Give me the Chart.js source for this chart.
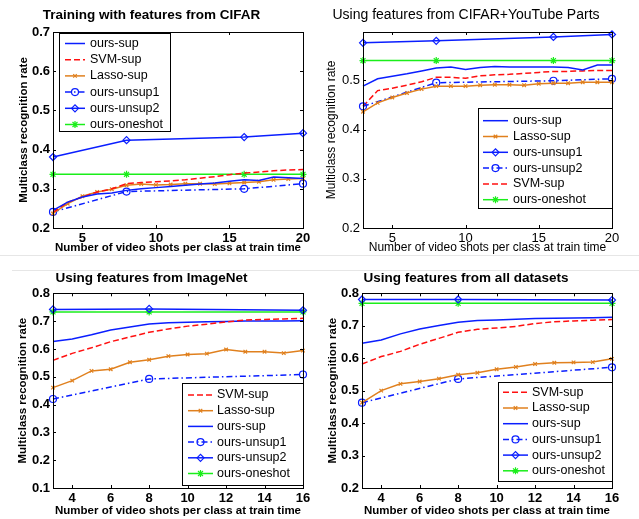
<!DOCTYPE html>
<html>
<head>
<meta charset="utf-8">
<script src="https://cdn.jsdelivr.net/npm/chart.js@4.4.1/dist/chart.umd.min.js"></script>
<style>
body { margin: 0; background: #fff; }
#page { position: relative; width: 639px; height: 519px; overflow: hidden; }
canvas { position: absolute; }
.sep { position: absolute; height: 1px; background: #e6e6e6; }
</style>
</head>
<body>
<div id="page">
    <div class="sep" style="left:0;top:255px;width:639px"></div>
    <div class="sep" style="left:12px;top:270px;width:627px"></div>
    <canvas id="cifarChart" width="320" height="260" style="left:0;top:0"></canvas>
    <canvas id="youtubeChart" width="319" height="260" style="left:320px;top:0"></canvas>
    <canvas id="imagenetChart" width="320" height="259" style="left:0;top:260px"></canvas>
    <canvas id="allChart" width="319" height="259" style="left:320px;top:260px"></canvas>
</div>
<script>
// x values (video shots per class)
const shots20 = [3, 4, 5, 6, 7, 8, 9, 10, 11, 12, 13, 14, 15, 16, 17, 18, 19, 20];
const markedShots20 = [3, 8, 16, 20];
const shots16 = [3, 4, 5, 6, 7, 8, 9, 10, 11, 12, 13, 14, 15, 16];
const markedShots16 = [3, 8, 16];

// Training with features from CIFAR
const cifarOursSup = [0.245, 0.266, 0.279, 0.287, 0.289, 0.296, 0.300, 0.303, 0.306, 0.309, 0.312, 0.315, 0.319, 0.323, 0.321, 0.330, 0.328, 0.326];
const cifarSvmSup = [0.240, 0.266, 0.279, 0.292, 0.300, 0.313, 0.316, 0.318, 0.320, 0.323, 0.327, 0.331, 0.336, 0.340, 0.343, 0.346, 0.348, 0.349];
const cifarLassoSup = [0.237, 0.262, 0.281, 0.292, 0.299, 0.309, 0.312, 0.310, 0.311, 0.313, 0.313, 0.312, 0.314, 0.316, 0.318, 0.323, 0.325, 0.326];
const cifarUnsup1 = [0.241, 0.293, 0.300, 0.313];
const cifarUnsup2 = [0.381, 0.424, 0.432, 0.442];
const cifarOneshot = [0.337, 0.337, 0.337, 0.337];

// Using features from CIFAR+YouTube Parts
const ytOursSup = [0.488, 0.503, 0.508, 0.513, 0.519, 0.525, 0.527, 0.522, 0.526, 0.528, 0.527, 0.527, 0.527, 0.527, 0.526, 0.521, 0.531, 0.531];
const ytLassoSup = [0.436, 0.454, 0.465, 0.474, 0.482, 0.488, 0.488, 0.488, 0.490, 0.491, 0.491, 0.490, 0.493, 0.494, 0.494, 0.496, 0.496, 0.496];
const ytUnsup1 = [0.576, 0.580, 0.588, 0.593];
const ytUnsup2 = [0.447, 0.495, 0.499, 0.503];
const ytSvmSup = [0.447, 0.479, 0.484, 0.490, 0.497, 0.506, 0.506, 0.504, 0.509, 0.511, 0.512, 0.514, 0.516, 0.518, 0.518, 0.519, 0.520, 0.520];
const ytOneshot = [0.540, 0.540, 0.540, 0.540];

// Using features from ImageNet
const inSvmSup = [0.559, 0.584, 0.604, 0.626, 0.643, 0.660, 0.672, 0.682, 0.689, 0.697, 0.704, 0.706, 0.708, 0.710];
const inLassoSup = [0.461, 0.486, 0.521, 0.527, 0.552, 0.561, 0.574, 0.580, 0.583, 0.598, 0.590, 0.590, 0.585, 0.594];
const inOursSup = [0.627, 0.636, 0.651, 0.668, 0.679, 0.690, 0.694, 0.696, 0.698, 0.699, 0.700, 0.700, 0.700, 0.701];
const inUnsup1 = [0.420, 0.492, 0.508];
const inUnsup2 = [0.742, 0.744, 0.739];
const inOneshot = [0.733, 0.733, 0.733];

// Using features from all datasets
const allSvmSup = [0.582, 0.605, 0.621, 0.643, 0.661, 0.680, 0.689, 0.693, 0.698, 0.707, 0.712, 0.715, 0.717, 0.719];
const allLassoSup = [0.463, 0.500, 0.521, 0.528, 0.537, 0.549, 0.555, 0.566, 0.573, 0.582, 0.586, 0.587, 0.588, 0.598];
const allOursSup = [0.646, 0.656, 0.675, 0.690, 0.701, 0.711, 0.716, 0.718, 0.720, 0.722, 0.723, 0.724, 0.725, 0.726];
const allUnsup1 = [0.463, 0.536, 0.572];
const allUnsup2 = [0.781, 0.781, 0.779];
const allOneshot = [0.769, 0.769, 0.769];

const FONT = "'Liberation Sans', Arial, Helvetica, sans-serif";
const BLUE = "#0a1eff";
const RED = "#ff1010";
const ORANGE = "#e0801e";
const GREEN = "#1aee1a";

const looks = {
    solid: { borderColor: BLUE, pointRadius: 0 },
    dashed: { borderColor: RED, borderDash: [6, 3], pointRadius: 0 },
    cross: { borderColor: ORANGE, pointStyle: "crossRot", pointRadius: 2.5 },
    dashDotCircle: { borderColor: BLUE, borderDash: [6, 3, 1.5, 3], pointStyle: "circle", pointRadius: 3.5 },
    diamond: { borderColor: BLUE, pointStyle: "rectRot", pointRadius: 3.5 },
    star: { borderColor: GREEN, pointStyle: "star", pointRadius: 3.5 },
};

function series(label, xs, ys, look) {
    return Object.assign(
        {
            label: label,
            data: xs.map((x, i) => ({ x: x, y: ys[i] })),
            borderWidth: 1.5,
            backgroundColor: "rgba(0,0,0,0)",
            pointBackgroundColor: "rgba(0,0,0,0)",
            pointBorderWidth: 1.2,
            tension: 0,
            clip: false,
        },
        looks[look]
    );
}

// box around the plot area with inward tick marks (matlab style)
const frame = {
    id: "frame",
    afterDraw(chart) {
        const { ctx, chartArea: a } = chart;
        const xs = chart.scales.x, ys = chart.scales.y;
        ctx.save();
        ctx.strokeStyle = "#000";
        ctx.lineWidth = 1;
        ctx.strokeRect(Math.round(a.left) + 0.5, Math.round(a.top) + 0.5,
            Math.round(a.right - a.left), Math.round(a.bottom - a.top));
        ctx.beginPath();
        xs.ticks.forEach((t) => {
            const px = Math.round(xs.getPixelForValue(t.value)) + 0.5;
            ctx.moveTo(px, a.bottom); ctx.lineTo(px, a.bottom - 3);
            ctx.moveTo(px, a.top); ctx.lineTo(px, a.top + 3);
        });
        ys.ticks.forEach((t) => {
            const py = Math.round(ys.getPixelForValue(t.value)) + 0.5;
            ctx.moveTo(a.left, py); ctx.lineTo(a.left + 3, py);
            ctx.moveTo(a.right, py); ctx.lineTo(a.right - 3, py);
        });
        ctx.stroke();
        ctx.restore();
    },
};

// legend drawn inside the plot area
const insideLegend = {
    id: "insideLegend",
    afterDraw(chart, args, opts) {
        const ctx = chart.ctx;
        const b = opts.box;
        ctx.save();
        ctx.fillStyle = "#fff";
        ctx.fillRect(b.left, b.top, b.width, b.height);
        ctx.strokeStyle = "#000";
        ctx.lineWidth = 1;
        ctx.strokeRect(b.left + 0.5, b.top + 0.5, b.width, b.height);
        ctx.font = "12.5px " + FONT;
        ctx.textBaseline = "middle";
        chart.data.datasets.forEach((ds, i) => {
            const y = opts.firstRow + i * opts.rowGap;
            ctx.strokeStyle = ds.borderColor;
            ctx.lineWidth = ds.borderWidth;
            ctx.setLineDash(ds.borderDash || []);
            ctx.beginPath();
            ctx.moveTo(opts.sampleLeft, y);
            ctx.lineTo(opts.sampleLeft + opts.sampleWidth, y);
            ctx.stroke();
            ctx.setLineDash([]);
            if (ds.pointRadius > 0) {
                ctx.fillStyle = "rgba(0,0,0,0)";
                ctx.lineWidth = ds.pointBorderWidth;
                Chart.helpers.drawPoint(ctx, {
                    pointStyle: ds.pointStyle,
                    radius: ds.pointRadius,
                    borderWidth: ds.pointBorderWidth,
                    rotation: 0,
                }, opts.sampleLeft + opts.sampleWidth / 2, y);
            }
            ctx.fillStyle = "#000";
            ctx.fillText(ds.label, opts.textLeft, y);
        });
        ctx.restore();
    },
};

function makeChart(id, cfg) {
    const weight = cfg.bold ? "bold" : "normal";
    return new Chart(document.getElementById(id), {
        type: "line",
        data: { datasets: cfg.datasets },
        options: {
            responsive: false,
            animation: false,
            layout: { padding: { right: cfg.padRight } },
            plugins: {
                legend: { display: false },
                tooltip: { enabled: false },
                title: {
                    display: true,
                    text: cfg.title,
                    color: "#000",
                    font: { family: FONT, size: cfg.bold ? 13.5 : 14, weight: weight, lineHeight: 1.2 },
                    padding: cfg.titlePad,
                },
                insideLegend: cfg.legend,
            },
            scales: {
                x: {
                    type: "linear",
                    min: cfg.xMin,
                    max: cfg.xMax,
                    grid: { display: false, drawTicks: false },
                    border: { display: false },
                    ticks: {
                        stepSize: cfg.xStep,
                        includeBounds: false,
                        autoSkip: false,
                        maxRotation: 0,
                        color: "#000",
                        padding: 3,
                        font: { family: FONT, size: 13, weight: weight },
                    },
                    title: {
                        display: true,
                        text: "Number of video shots per class at train time",
                        color: "#000",
                        font: { family: FONT, size: cfg.bold ? 11.5 : 12, weight: weight, lineHeight: 1.2 },
                        padding: { top: 0, bottom: cfg.xTitleBottom },
                    },
                    afterFit: (s) => { s.height = cfg.xAxisHeight; },
                },
                y: {
                    min: cfg.yMin,
                    max: cfg.yMax,
                    grid: { display: false, drawTicks: false },
                    border: { display: false },
                    ticks: {
                        stepSize: 0.1,
                        includeBounds: false,
                        autoSkip: false,
                        color: "#000",
                        padding: 3,
                        font: { family: FONT, size: 13, weight: weight },
                    },
                    title: {
                        display: true,
                        text: "Multiclass recognition rate",
                        color: "#000",
                        font: { family: FONT, size: cfg.bold ? 11.5 : 12, weight: weight, lineHeight: 1.2 },
                        padding: { top: cfg.yTitleLeft, bottom: 0 },
                    },
                    afterFit: (s) => { s.width = cfg.yAxisWidth; },
                },
            },
        },
        plugins: [frame, insideLegend],
    });
}

makeChart("cifarChart", {
    title: "Training with features from CIFAR",
    bold: true,
    titlePad: { top: 6.9, bottom: 8.9 },
    xMin: 3, xMax: 20, xStep: 5,
    yMin: 0.2, yMax: 0.7,
    yAxisWidth: 53, xAxisHeight: 32, padRight: 17,
    yTitleLeft: 17, xTitleBottom: 4.8,
    datasets: [
        series("ours-sup", shots20, cifarOursSup, "solid"),
        series("SVM-sup", shots20, cifarSvmSup, "dashed"),
        series("Lasso-sup", shots20, cifarLassoSup, "cross"),
        series("ours-unsup1", markedShots20, cifarUnsup1, "dashDotCircle"),
        series("ours-unsup2", markedShots20, cifarUnsup2, "diamond"),
        series("ours-oneshot", markedShots20, cifarOneshot, "star"),
    ],
    legend: {
        box: { left: 59, top: 33, width: 111, height: 98 },
        firstRow: 43.5, rowGap: 16.2,
        sampleLeft: 65, sampleWidth: 20, textLeft: 90,
    },
});

makeChart("youtubeChart", {
    title: "Using features from CIFAR+YouTube Parts",
    bold: false,
    titlePad: { top: 6.6, bottom: 8.6 },
    xMin: 3, xMax: 20, xStep: 5,
    yMin: 0.2, yMax: 0.598,
    yAxisWidth: 43, xAxisHeight: 32, padRight: 27,
    yTitleLeft: 4.8, xTitleBottom: 5.5,
    datasets: [
        series("ours-sup", shots20, ytOursSup, "solid"),
        series("Lasso-sup", shots20, ytLassoSup, "cross"),
        series("ours-unsup1", markedShots20, ytUnsup1, "diamond"),
        series("ours-unsup2", markedShots20, ytUnsup2, "dashDotCircle"),
        series("SVM-sup", shots20, ytSvmSup, "dashed"),
        series("ours-oneshot", markedShots20, ytOneshot, "star"),
    ],
    legend: {
        box: { left: 158, top: 108, width: 134, height: 100 },
        firstRow: 120.7, rowGap: 15.8,
        sampleLeft: 163, sampleWidth: 25, textLeft: 193,
    },
});

makeChart("imagenetChart", {
    title: "Using features from ImageNet",
    bold: true,
    titlePad: { top: 10.2, bottom: 6.9 },
    xMin: 3, xMax: 16, xStep: 2,
    yMin: 0.1, yMax: 0.8,
    yAxisWidth: 53, xAxisHeight: 31, padRight: 17,
    yTitleLeft: 16, xTitleBottom: 1.4,
    datasets: [
        series("SVM-sup", shots16, inSvmSup, "dashed"),
        series("Lasso-sup", shots16, inLassoSup, "cross"),
        series("ours-sup", shots16, inOursSup, "solid"),
        series("ours-unsup1", markedShots16, inUnsup1, "dashDotCircle"),
        series("ours-unsup2", markedShots16, inUnsup2, "diamond"),
        series("ours-oneshot", markedShots16, inOneshot, "star"),
    ],
    legend: {
        box: { left: 182, top: 123, width: 121, height: 102 },
        firstRow: 135, rowGap: 15.7,
        sampleLeft: 188, sampleWidth: 25, textLeft: 217,
    },
});

makeChart("allChart", {
    title: "Using features from all datasets",
    bold: true,
    titlePad: { top: 10.2, bottom: 6.9 },
    xMin: 3, xMax: 16, xStep: 2,
    yMin: 0.2, yMax: 0.8,
    yAxisWidth: 42, xAxisHeight: 31, padRight: 27,
    yTitleLeft: 5.6, xTitleBottom: 1.4,
    datasets: [
        series("SVM-sup", shots16, allSvmSup, "dashed"),
        series("Lasso-sup", shots16, allLassoSup, "cross"),
        series("ours-sup", shots16, allOursSup, "solid"),
        series("ours-unsup1", markedShots16, allUnsup1, "dashDotCircle"),
        series("ours-unsup2", markedShots16, allUnsup2, "diamond"),
        series("ours-oneshot", markedShots16, allOneshot, "star"),
    ],
    legend: {
        box: { left: 178, top: 122, width: 114, height: 99 },
        firstRow: 132.3, rowGap: 15.7,
        sampleLeft: 183, sampleWidth: 25, textLeft: 212,
    },
});
</script>
</body>
</html>
